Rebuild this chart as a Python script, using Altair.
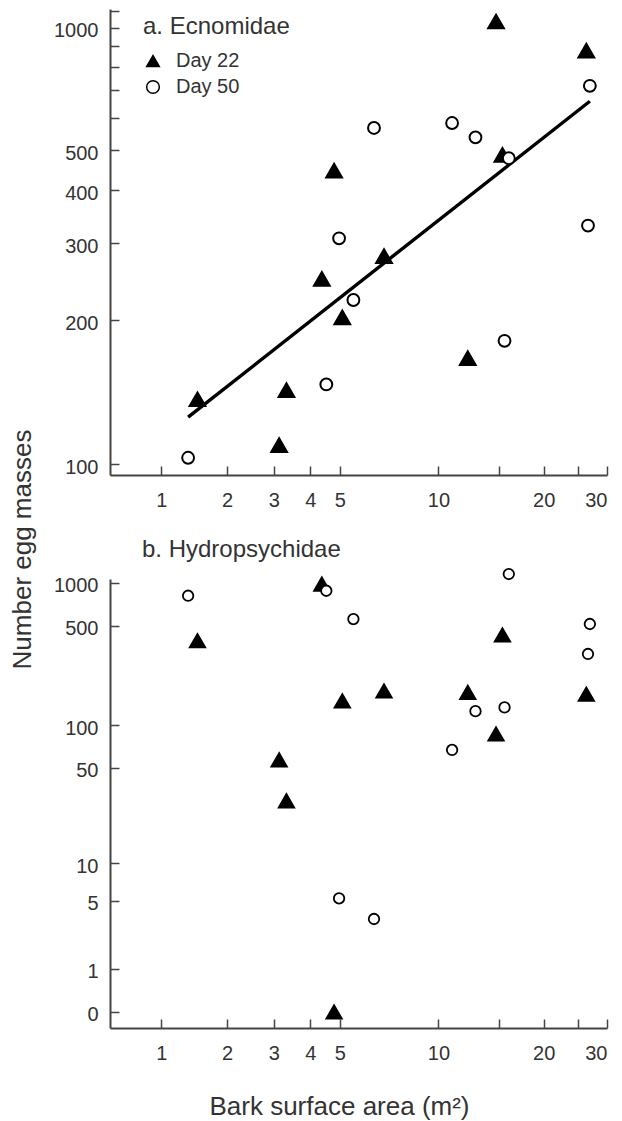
import math
import altair as alt
import pandas as pd

# ---- data ----
DAYS = ["Day 22", "Day 50"]

AREA_DAY22 = [1.50, 3.13, 3.32, 4.37, 4.79, 5.09, 6.87, 12.17, 14.67, 15.3, 26.3]
ECNO_DAY22 = [135, 109, 141, 248, 446, 203, 280, 165, 1036, 487, 877]
HYDRO_DAY22 = [394, 57, 29, 983, 0, 149, 175, 171, 87, 432, 166]

AREA_DAY50 = [1.36, 4.52, 4.97, 5.52, 6.40, 10.96, 12.81, 15.51, 15.95, 26.58, 26.9]
ECNO_DAY50 = [103, 145, 308, 222, 566, 582, 537, 180, 478, 330, 718]
HYDRO_DAY50 = [814, 882, 5.24, 559, 3.47, 67, 126, 134, 1155, 318, 516]

FIT_AREA = [1.36, 26.9]
FIT_EGGS = [124, 658]

X_TICKS = [1, 2, 3, 4, 5, 10, 15, 20, 25, 30]
TOP_Y_TICKS = [100, 200, 300, 400, 500, 600, 700, 800, 900, 1000, 1100]
TOP_Y_LABELS = [100, 200, 300, 400, 500, 1000]
BOT_Y_TICKS = [0, 1, 5, 10, 50, 100, 500, 1000]

# ---- tables ----
top_df = pd.DataFrame({
    "area": AREA_DAY22 + AREA_DAY50,
    "eggs": ECNO_DAY22 + ECNO_DAY50,
    "day": [DAYS[0]] * len(AREA_DAY22) + [DAYS[1]] * len(AREA_DAY50),
})
bot_df = pd.DataFrame({
    "area": AREA_DAY22 + AREA_DAY50,
    "eggs": HYDRO_DAY22 + HYDRO_DAY50,
    "day": [DAYS[0]] * len(AREA_DAY22) + [DAYS[1]] * len(AREA_DAY50),
})
fit_df = pd.DataFrame({"area": FIT_AREA, "eggs": FIT_EGGS})

FONT = "Liberation Sans"
TEXT = "#333333"
AXISC = "#444444"
OFF = 25  # top panel y axis is logarithmic in (eggs - 25)

x_scale = alt.Scale(type="symlog", constant=1, domain=[0.46, 30], nice=False, zero=False)
x_label_expr = "datum.value == 15 || datum.value == 25 ? '' : datum.label"

AX_STYLE = dict(
    domainColor=AXISC, domainWidth=2, tickColor=AXISC, tickWidth=1.5,
    labelFont=FONT, labelFontSize=20, labelColor=TEXT, grid=False,
    tickSize={"expr": "-9"},
)


def x_axis(**kw):
    return alt.Axis(values=X_TICKS, format="d", labelExpr=x_label_expr,
                    labelPadding=24, **AX_STYLE, **kw)


shape_scale = alt.Scale(domain=DAYS, range=["triangle-up", "circle"])
fill_scale = alt.Scale(domain=DAYS, range=["#000000", "#ffffff"])

legend = alt.Legend(
    title="a. Ecnomidae", orient="none", legendX=33, legendY=6,
    titleFont=FONT, titleFontSize=24, titleFontWeight="normal", titleColor=TEXT,
    titlePadding=12, labelFont=FONT, labelFontSize=20, labelColor=TEXT,
    labelOffset=13, rowPadding=6, symbolSize=160, symbolStrokeWidth=1.5,
)

top_y_vals = [math.log10(v - OFF) for v in TOP_Y_TICKS]
top_label_expr = (
    "indexof([" + ",".join(str(v) for v in TOP_Y_LABELS) + "], round(pow(10, datum.value) + "
    + str(OFF) + ")) >= 0 ? format(round(pow(10, datum.value) + " + str(OFF) + "), 'd') : ''"
)
top_y = alt.Y(
    "ty:Q",
    scale=alt.Scale(domain=[math.log10(95.5 - OFF), math.log10(1113 - OFF)], nice=False, zero=False),
    axis=alt.Axis(values=top_y_vals, labelExpr=top_label_expr,
                  labelPadding=21, labelOffset=3, title="Number egg masses",
                  titleX=-88, titleY=540, titleAngle=270, titleBaseline="middle",
                  titleAlign="center", titleFontSize=26, titleFontWeight="normal",
                  titleFont=FONT, titleColor=TEXT, **AX_STYLE),
)
calc = "log(datum.eggs - %d) / LN10" % OFF

fit_line = alt.Chart(fit_df).transform_calculate(ty=calc).mark_line(
    color="#000000", strokeWidth=3.4
).encode(
    x=alt.X("area:Q", scale=x_scale, axis=x_axis(title=None)),
    y=top_y,
)


def top_points(day, size):
    return alt.Chart(top_df).transform_filter(
        alt.datum.day == day
    ).transform_calculate(ty=calc).mark_point(
        filled=False, stroke="#000000", strokeWidth=2, opacity=1, size=size
    ).encode(
        x=alt.X("area:Q", scale=x_scale, axis=x_axis(title=None)),
        y=top_y,
        shape=alt.Shape("day:N", scale=shape_scale, legend=legend),
        fill=alt.Fill("day:N", scale=fill_scale, legend=legend),
    )


top = alt.layer(
    fit_line, top_points(DAYS[0], 250), top_points(DAYS[1], 140)
).properties(width=497, height=466)

bot = alt.Chart(bot_df).mark_point(
    filled=False, stroke="#000000", strokeWidth=1.8, opacity=1
).encode(
    x=alt.X("area:Q", scale=x_scale,
            axis=x_axis(title="Bark surface area (m²)", titleX=229, titleY=86,
                        titleBaseline="alphabetic", titleFontSize=26,
                        titleFontWeight="normal", titleFont=FONT, titleColor=TEXT)),
    y=alt.Y("eggs:Q",
            scale=alt.Scale(type="symlog", constant=1, domain=[-0.294, 1066], nice=False, zero=False),
            axis=alt.Axis(values=BOT_Y_TICKS, format="d", labelOffset=3,
                          labelPadding=21, title=None, **AX_STYLE)),
    shape=alt.Shape("day:N", scale=shape_scale, legend=None),
    fill=alt.Fill("day:N", scale=fill_scale, legend=None),
    size=alt.Size("day:N", scale=alt.Scale(domain=DAYS, range=[240, 110]), legend=None),
).properties(
    width=497, height=449,
    title=alt.TitleParams("b. Hydropsychidae", anchor="start", frame="group", dx=32,
                          dy=37, offset=21, baseline="alphabetic", fontSize=24, font=FONT,
                          fontWeight="normal", color=TEXT),
)

chart = alt.vconcat(top, bot, spacing=104, bounds="flush").resolve_scale(
    shape="independent", fill="independent", size="independent"
).resolve_legend(
    shape="independent", fill="independent", size="independent"
).properties(
    padding={"left": 9, "top": 9, "right": 5, "bottom": 5},
    background="white",
).configure_view(stroke=None)

chart.save("out.html", embed_options={"renderer": "svg", "actions": False})
